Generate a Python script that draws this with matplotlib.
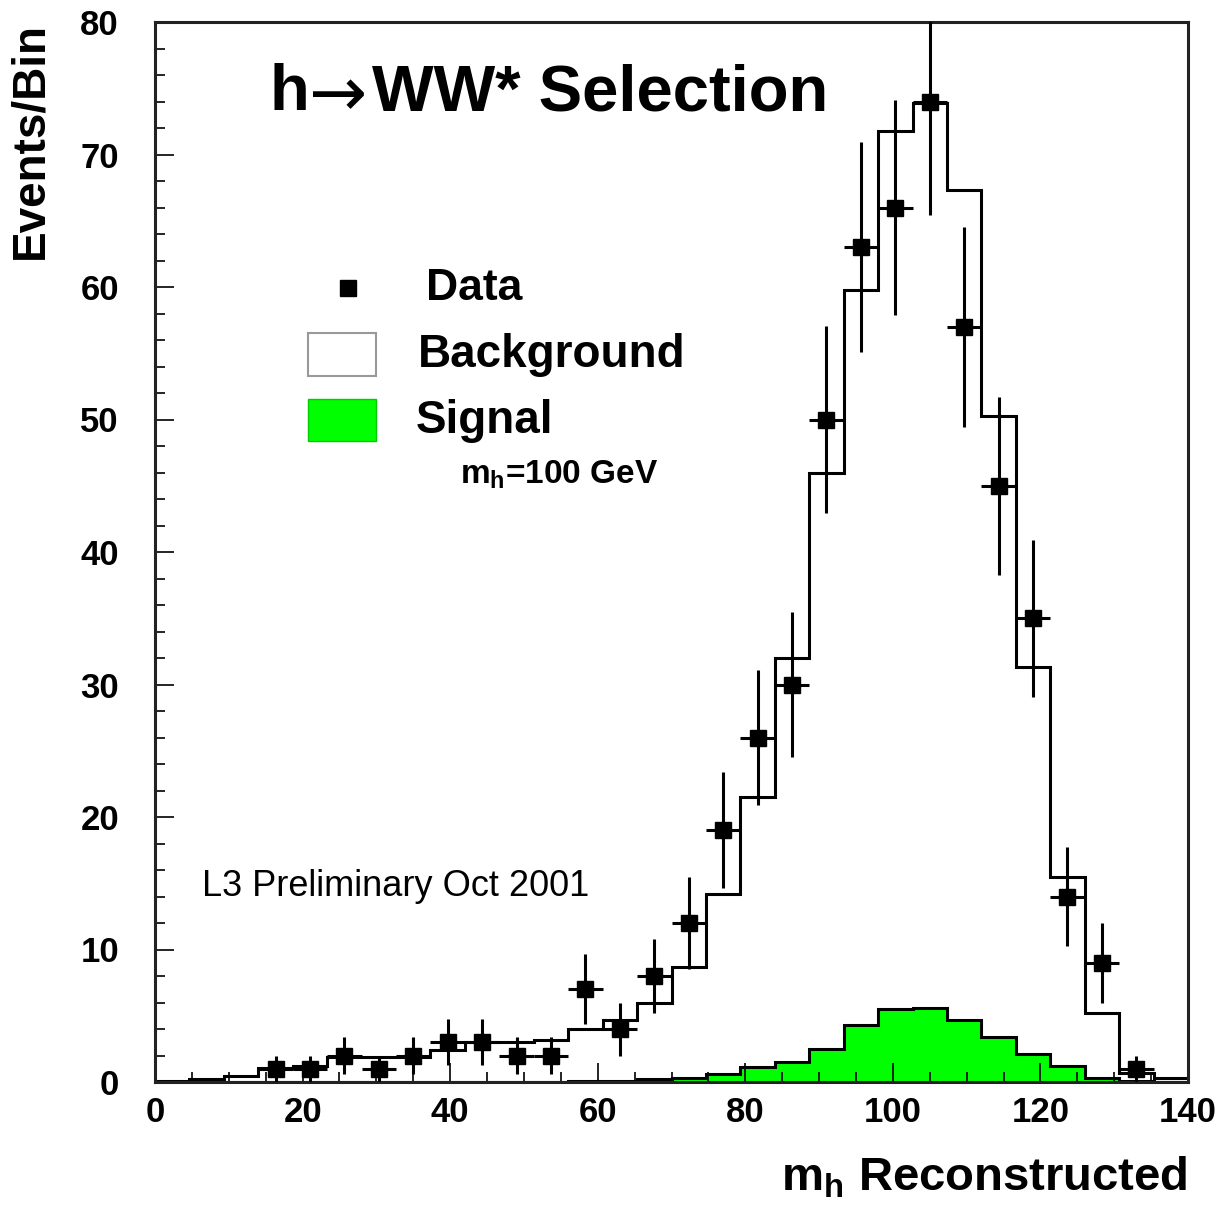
import numpy as np
import matplotlib
matplotlib.use("Agg")
import matplotlib.pyplot as plt
from matplotlib.patches import Rectangle

plt.rcParams["font.family"] = ["Liberation Sans", "DejaVu Sans"]
plt.rcParams["font.weight"] = "bold"
plt.rcParams["mathtext.fontset"] = "custom"
plt.rcParams["mathtext.rm"] = "Liberation Sans:bold"
plt.rcParams["mathtext.it"] = "Liberation Sans:bold"
plt.rcParams["mathtext.bf"] = "Liberation Sans:bold"

# 30 bins between 0 and 140 GeV
bin_edges = np.linspace(0, 140, 31)
bin_centers = 0.5 * (bin_edges[:-1] + bin_edges[1:])

# expected background per bin
background = [0.1, 0.2, 0.45, 1.05, 1.2, 1.9, 1.9, 1.9, 2.4, 3.0,
              3.0, 3.2, 4.0, 4.7, 6.0, 8.7, 14.2, 21.5, 32.0, 46.0,
              59.8, 71.8, 73.9, 67.3, 50.3, 31.3, 15.5, 5.2, 0.7, 0.3]

# signal for m_h = 100 GeV
signal = [0.0, 0.0, 0.0, 0.0, 0.0, 0.0, 0.0, 0.0, 0.0, 0.0,
          0.02, 0.03, 0.05, 0.1, 0.25, 0.3, 0.6, 1.1, 1.5, 2.5,
          4.3, 5.5, 5.6, 4.7, 3.4, 2.1, 1.2, 0.3, 0.05, 0.0]

# observed events (bins 3..28)
data_first_bin = 3
data_counts = [1, 1, 2, 1, 2, 3, 3, 2, 2, 7,
               4, 8, 12, 19, 26, 30, 50, 63, 66, 74,
               57, 45, 35, 14, 9, 1]

x_ticks = [0, 20, 40, 60, 80, 100, 120, 140]
y_ticks = [0, 10, 20, 30, 40, 50, 60, 70, 80]

fig = plt.figure(figsize=(12.32, 12.06), dpi=100)
ax = fig.add_axes([155 / 1232, 1 - 1082 / 1206, 1033 / 1232, 1060 / 1206])

# background histogram
ax.stairs(background, bin_edges, baseline=None, color="black", linewidth=2.2, zorder=2)

# signal histogram
ax.stairs(signal, bin_edges, baseline=0, fill=True, color="#00ff00", zorder=1.5)
ax.stairs(signal, bin_edges, baseline=None, color="black", linewidth=2.2, zorder=2)

# data points
counts = np.array(data_counts, dtype=float)
xs = bin_centers[data_first_bin:data_first_bin + len(counts)]
half_width = 0.5 * (bin_edges[1] - bin_edges[0])
ax.errorbar(xs, counts, xerr=half_width, yerr=np.sqrt(counts), fmt="s",
            color="black", markersize=12, linewidth=2.2, capsize=0, zorder=3)

ax.set_xlim(0, 140)
ax.set_ylim(0, 80)
ax.set_xticks(x_ticks)
ax.set_yticks(y_ticks)
ax.set_xticks(np.arange(0, 141, 5), minor=True)
ax.set_yticks(np.arange(0, 81, 2), minor=True)
ax.tick_params(which="both", direction="in", top=False, right=False, width=1.2)
ax.tick_params(which="major", length=14)
ax.tick_params(which="minor", length=7)
ax.tick_params(axis="y", which="major", labelsize=25, pad=26)
ax.tick_params(axis="x", which="major", labelsize=25, pad=10)
for spine in ax.spines.values():
    spine.set_linewidth(2.2)
    spine.set_color("#222222")

fig.text(30 / 1232, 1 - 22 / 1206, "Events/Bin", rotation=90, ha="center", va="top",
         fontsize=33, fontweight="bold")
fig.text(1188 / 1232, 1 - 1178 / 1206, r"m$_\mathrm{h}$ Reconstructed", ha="right", va="center",
         fontsize=34, fontweight="bold")

# title, arrow drawn in DejaVu for a longer glyph
ax.text(0.111, 0.933, "h", transform=ax.transAxes, ha="left", va="center",
        fontsize=47, fontweight="bold")
ax.text(0.1775, 0.930, "\u2192", transform=ax.transAxes, ha="center", va="center",
        fontsize=50, fontweight="normal", family="DejaVu Sans")
ax.text(0.210, 0.933, "WW* Selection", transform=ax.transAxes, ha="left", va="center",
        fontsize=47, fontweight="bold")

# legend drawn by hand
ax.plot([0.1868], [0.749], "s", color="black", markersize=12, transform=ax.transAxes)
ax.text(0.262, 0.749, "Data", transform=ax.transAxes, ha="left", va="center", fontsize=32)
ax.add_patch(Rectangle((0.148, 0.666), 0.066, 0.041, transform=ax.transAxes,
                       facecolor="white", edgecolor="#999999", linewidth=1.5))
ax.text(0.2546, 0.686, "Background", transform=ax.transAxes, ha="left", va="center", fontsize=33)
ax.add_patch(Rectangle((0.148, 0.605), 0.066, 0.039, transform=ax.transAxes,
                       facecolor="#00ff00", edgecolor="#00cc00", linewidth=1.0))
ax.text(0.2527, 0.6236, "Signal", transform=ax.transAxes, ha="left", va="center", fontsize=33)
ax.text(0.2953, 0.5726, r"m$_\mathrm{h}$=100 GeV", transform=ax.transAxes, ha="left", va="center",
        fontsize=24)

ax.text(0.0455, 0.184, "L3 Preliminary Oct 2001", transform=ax.transAxes, ha="left", va="center",
        fontsize=26, fontweight="normal")

plt.savefig("out.png", dpi=100)
plt.close()
